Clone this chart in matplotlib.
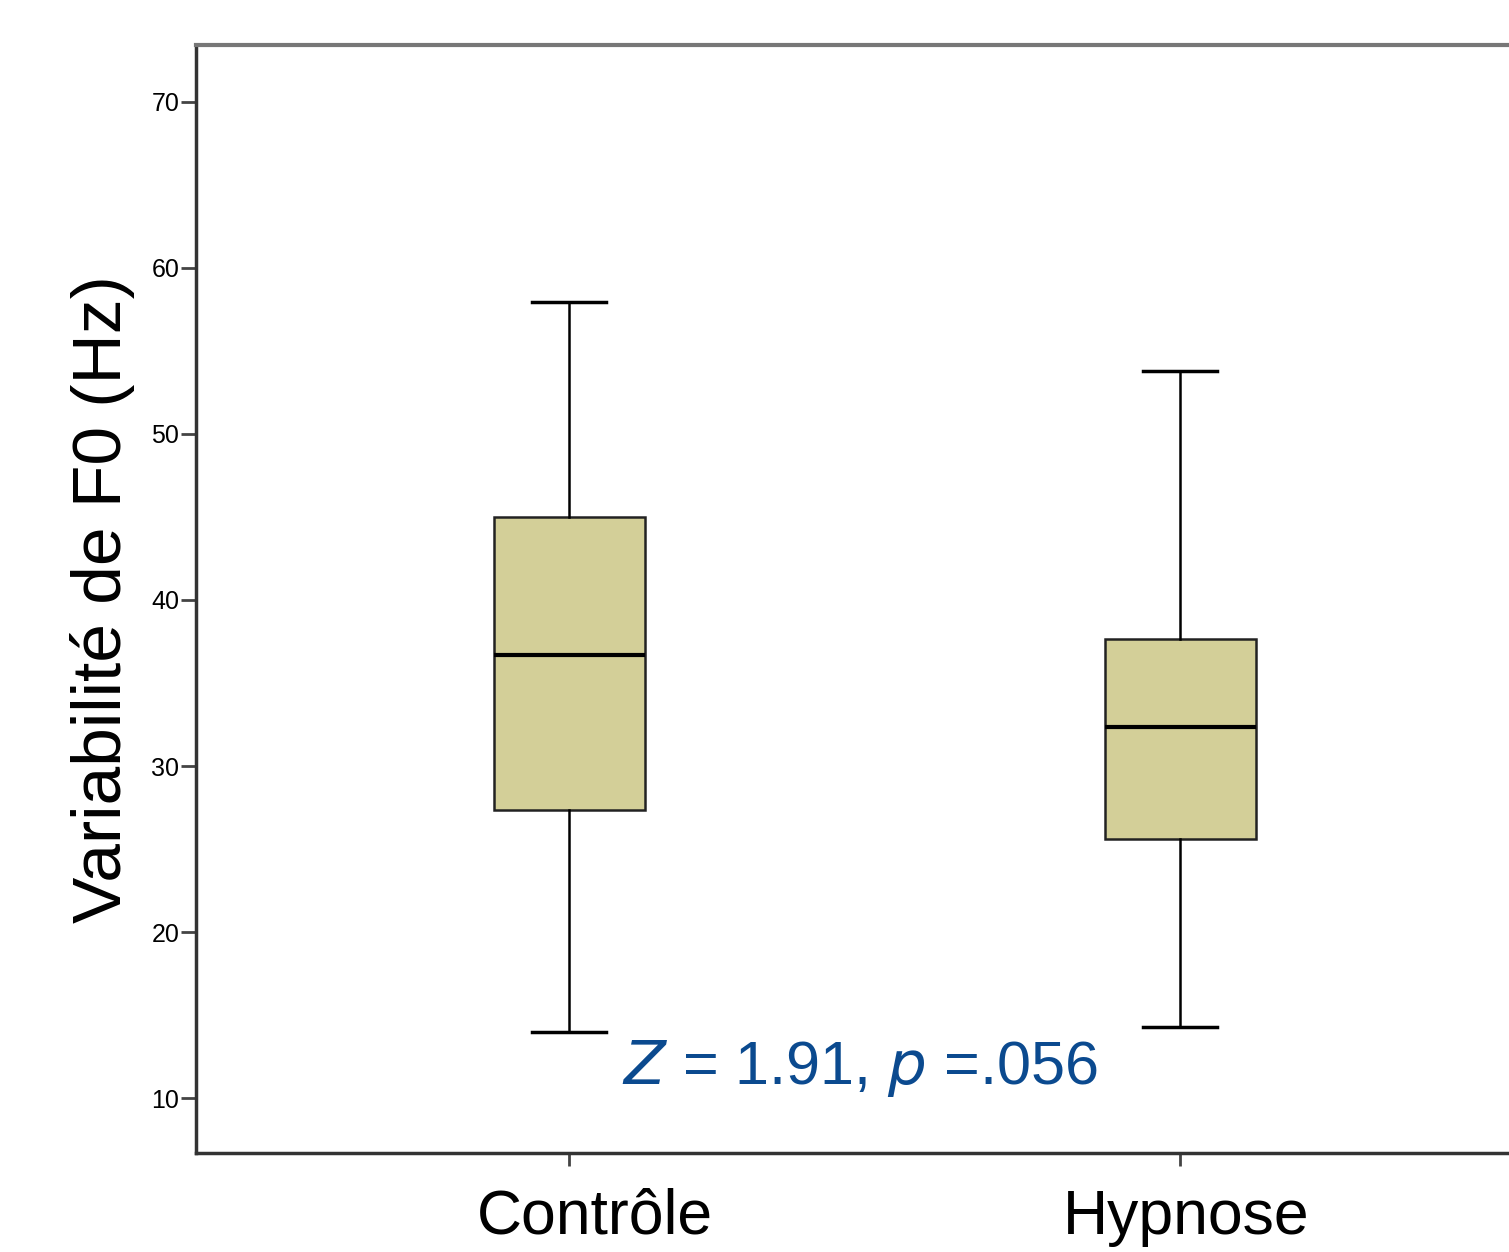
import matplotlib.pyplot as plt
import matplotlib.transforms as mtransforms

# Statistiques (Hz)
categories = ['Contrôle', 'Hypnose']
whislo = [14.0, 14.3]
q1 = [27.35, 25.6]
med = [36.7, 32.35]
q3 = [45.0, 37.65]
whishi = [57.95, 53.8]
yticks = [10, 20, 30, 40, 50, 60, 70]

stats = []
for i, nom in enumerate(categories):
    stats.append({'label': nom, 'whislo': whislo[i], 'q1': q1[i], 'med': med[i],
                  'q3': q3[i], 'whishi': whishi[i], 'fliers': []})

fig = plt.figure(figsize=(15.09, 12.52), dpi=100)
ax = fig.add_axes([196 / 1509, 1 - 1153 / 1252, 1 - 196 / 1509 + 0.01, (1153 - 45) / 1252])

ax.bxp(stats, positions=[1, 2], widths=0.247, showfliers=False, patch_artist=True,
       boxprops=dict(facecolor='#d3cf98', edgecolor='#222222', linewidth=1.8),
       medianprops=dict(color='black', linewidth=3),
       whiskerprops=dict(color='black', linewidth=1.8),
       capprops=dict(color='black', linewidth=2.5), capwidths=0.12)

ax.set_xlim(0.3895, 2.563)
ax.set_ylim(6.69, 73.43)
ax.set_yticks(yticks)
ax.set_yticklabels([str(t) for t in yticks], fontsize=18, fontfamily='Liberation Sans')
ax.set_xticks([1, 2])
ax.set_xticklabels(['', ''])
ax.tick_params(axis='y', length=11, width=2, color='#444444', pad=1)
ax.tick_params(axis='x', length=9, width=2, color='#444444')

# étiquettes de catégories légèrement décalées comme dans l'original
trans = mtransforms.blended_transform_factory(ax.transData, ax.transAxes)
decalage = [0.043, 0.01]
for i, nom in enumerate(categories):
    ax.text(i + 1 + decalage[i], -0.058, nom, transform=trans, fontsize=45,
            fontfamily='Liberation Sans', ha='center', va='center')

ax.spines['right'].set_visible(False)
ax.spines['top'].set_color('#777777')
ax.spines['top'].set_linewidth(3)
ax.spines['left'].set_color('#333333')
ax.spines['left'].set_linewidth(2.5)
ax.spines['bottom'].set_color('#333333')
ax.spines['bottom'].set_linewidth(2.5)

ax.set_ylabel('Variabilité de F0 (Hz)', fontsize=50, fontfamily='Liberation Sans', labelpad=12)

ax.text(1.476, 11.8, r'$\it{Z}$ = 1.91, $\it{p}$ =.056', color='#0b4a8f', fontsize=44,
        fontfamily='Liberation Sans', ha='center', va='center')

fig.savefig('out.png', dpi=100)
